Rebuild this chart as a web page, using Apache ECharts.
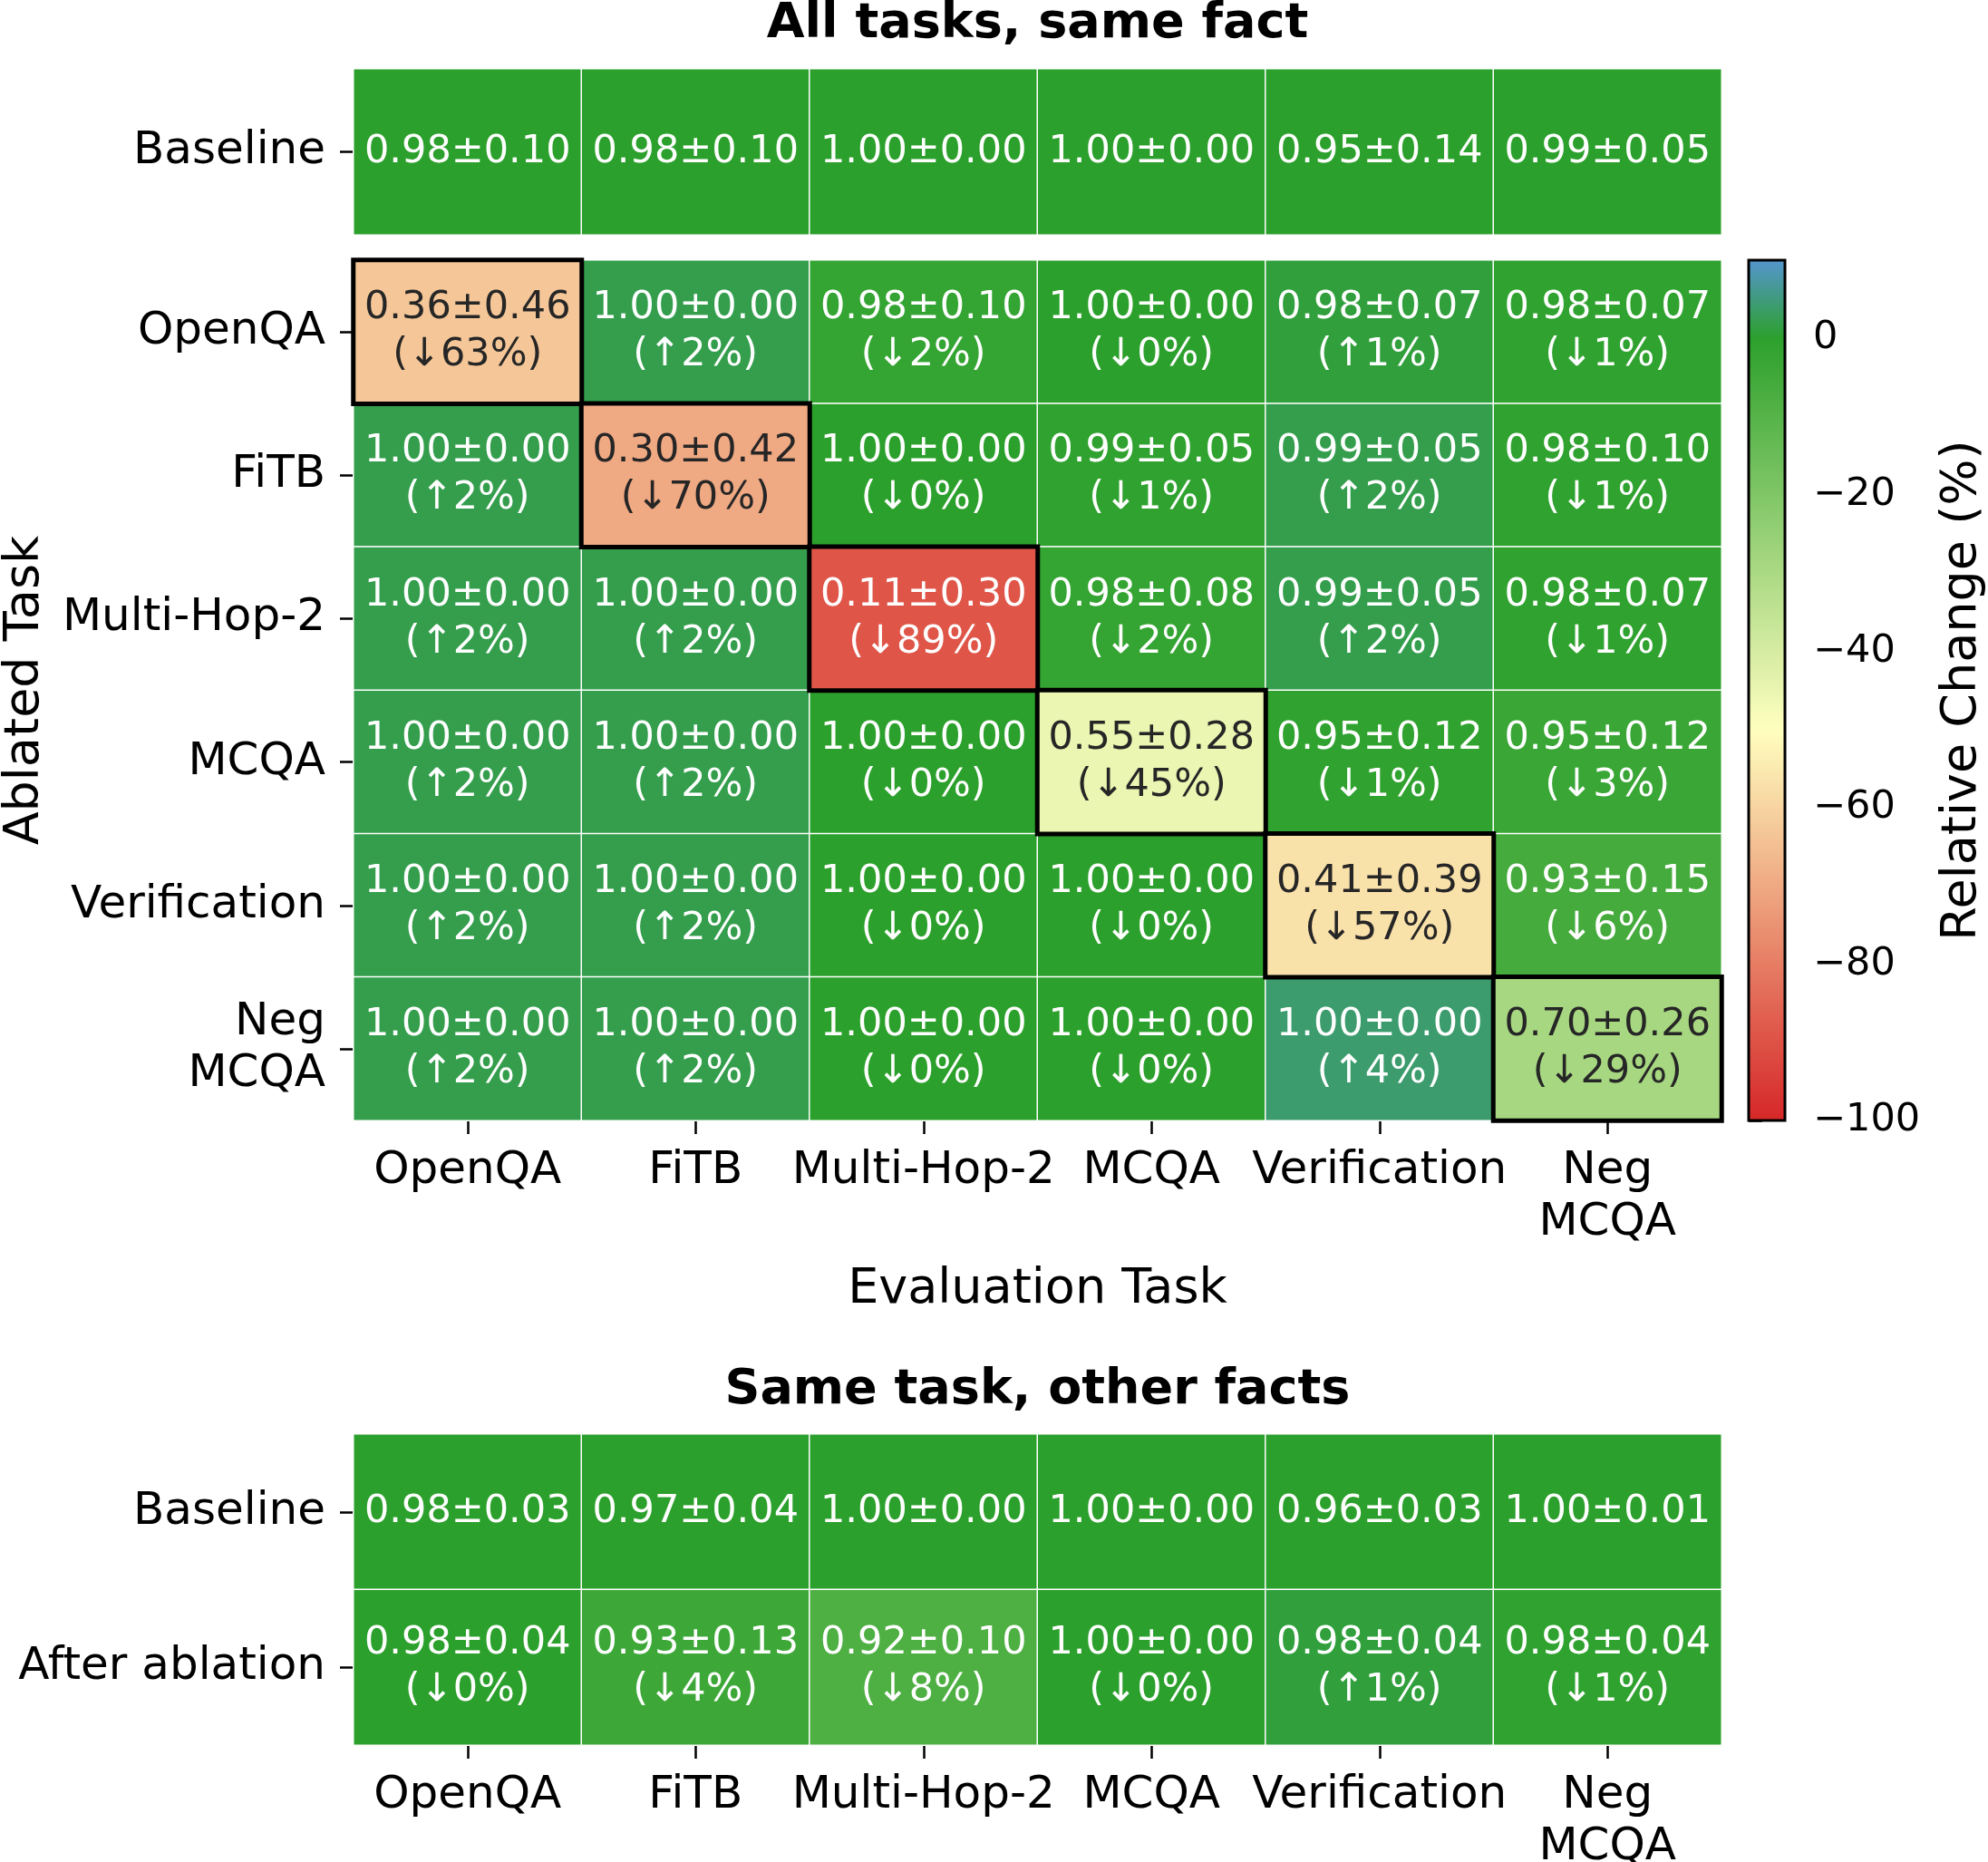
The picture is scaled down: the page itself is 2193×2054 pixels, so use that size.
<!DOCTYPE html>
<html><head><meta charset="utf-8">
<script src="https://cdn.jsdelivr.net/npm/echarts@6/dist/echarts.min.js"></script>
<style>html,body{margin:0;padding:0;background:#fff}#chart{width:2193px;height:2054px}</style>
</head><body><div id="chart"></div>
<script>
// ---------------- data ----------------
const evalTasks = ['OpenQA', 'FiTB', 'Multi-Hop-2', 'MCQA', 'Verification', 'Neg\nMCQA'];
const ablatedTasks = ['OpenQA', 'FiTB', 'Multi-Hop-2', 'MCQA', 'Verification', 'Neg\nMCQA'];
const baselineRow = ['Baseline'];
const baselineMean = [0.98, 0.98, 1.00, 1.00, 0.95, 0.99];
const baselineStd  = [0.10, 0.10, 0.00, 0.00, 0.14, 0.05];
const ablMean = [
  [0.36, 1.00, 0.98, 1.00, 0.98, 0.98],
  [1.00, 0.30, 1.00, 0.99, 0.99, 0.98],
  [1.00, 1.00, 0.11, 0.98, 0.99, 0.98],
  [1.00, 1.00, 1.00, 0.55, 0.95, 0.95],
  [1.00, 1.00, 1.00, 1.00, 0.41, 0.93],
  [1.00, 1.00, 1.00, 1.00, 1.00, 0.70]];
const ablStd = [
  [0.46, 0.00, 0.10, 0.00, 0.07, 0.07],
  [0.00, 0.42, 0.00, 0.05, 0.05, 0.10],
  [0.00, 0.00, 0.30, 0.08, 0.05, 0.07],
  [0.00, 0.00, 0.00, 0.28, 0.12, 0.12],
  [0.00, 0.00, 0.00, 0.00, 0.39, 0.15],
  [0.00, 0.00, 0.00, 0.00, 0.00, 0.26]];
const ablChange = [
  [-63, 2, -2, 0, 1, -1],
  [2, -70, 0, -1, 2, -1],
  [2, 2, -89, -2, 2, -1],
  [2, 2, 0, -45, -1, -3],
  [2, 2, 0, 0, -57, -6],
  [2, 2, 0, 0, 4, -29]];
const otherRows = ['Baseline', 'After ablation'];
const otherBaseMean  = [0.98, 0.97, 1.00, 1.00, 0.96, 1.00];
const otherBaseStd   = [0.03, 0.04, 0.00, 0.00, 0.03, 0.01];
const otherAfterMean = [0.98, 0.93, 0.92, 1.00, 0.98, 0.98];
const otherAfterStd  = [0.04, 0.13, 0.10, 0.00, 0.04, 0.04];
const otherAfterChange = [0, -4, -8, 0, 1, -1];
const cbarTicks = [-100, -80, -60, -40, -20, 0];
const cbarMin = -100, cbarMax = 10;

// ---------------- colormap (style) ----------------
const cmapNodes = [[-100, '#d62728'], [-50, '#ffffbf'], [0, '#2ca02c'], [10, '#5496cf']];
function hex2rgb(h) { return [1, 3, 5].map(i => parseInt(h.substr(i, 2), 16)); }
function cmap(v) {
  v = Math.max(cbarMin, Math.min(cbarMax, v));
  for (let i = 0; i < cmapNodes.length - 1; i++) {
    const [a, ca] = cmapNodes[i], [b, cb] = cmapNodes[i + 1];
    if (v <= b) {
      const t = (v - a) / (b - a), A = hex2rgb(ca), B = hex2rgb(cb);
      return A.map((x, k) => Math.round(x + (B[k] - x) * t));
    }
  }
  return hex2rgb(cmapNodes[cmapNodes.length - 1][1]);
}
function rgbStr(c) { return 'rgb(' + c.join(',') + ')'; }
function lum(c) {
  const l = c.map(x => { x /= 255; return x <= 0.03928 ? x / 12.92 : Math.pow((x + 0.055) / 1.055, 2.4); });
  return 0.2126 * l[0] + 0.7152 * l[1] + 0.0722 * l[2];
}
function textColor(v) { return lum(cmap(v)) > 0.408 ? '#262626' : '#ffffff'; }
const stopColors = [];
for (let v = cbarMin; v <= cbarMax; v += 10) stopColors.push(rgbStr(cmap(v)));

function fmtCell(p) {
  const d = p.data;
  let s = d.mean.toFixed(2) + '±' + d.std.toFixed(2);
  if (d.showChg) s += '\n(' + (d.value[2] > 0 ? '↑' : '↓') + Math.abs(d.value[2]) + '%)';
  return s;
}
function item(x, y, chg, mean, std, showChg) {
  return { value: [x, y, chg], mean: mean, std: std, showChg: showChg, label: { color: textColor(chg) } };
}

const topData = baselineMean.map((m, c) => item(c, 0, 0, m, baselineStd[c], false));
const mainData = [], diagData = [];
ablMean.forEach((row, r) => row.forEach((m, c) => {
  const it = item(c, r, ablChange[r][c], m, ablStd[r][c], true);
  (r === c ? diagData : mainData).push(it);
}));
const bottomData = [];
otherBaseMean.forEach((m, c) => bottomData.push(item(c, 0, 0, m, otherBaseStd[c], false)));
otherAfterMean.forEach((m, c) => bottomData.push(item(c, 1, otherAfterChange[c], m, otherAfterStd[c], true)));

// ---------------- option ----------------
const FONT = 'DejaVu Sans';
const tickStyle = { color: '#000', width: 2.5 };
const labelBase = { show: true, formatter: fmtCell, fontSize: 43, lineHeight: 52, fontFamily: FONT };
const cellStyle = { borderColor: '#ffffff', borderWidth: 1.5 };
function catX(grid, show, extra) {
  return Object.assign({
    gridIndex: grid, type: 'category', data: evalTasks, show: show,
    axisLine: { show: false }, splitLine: { show: false },
    axisTick: { show: true, alignWithLabel: true, interval: 0, length: 15, lineStyle: tickStyle },
    axisLabel: { interval: 0, fontSize: 50, lineHeight: 57, color: '#000', margin: 28, fontFamily: FONT }
  }, extra || {});
}
function catY(grid, data, extra) {
  return Object.assign({
    gridIndex: grid, type: 'category', data: data, inverse: true,
    axisLine: { show: false }, splitLine: { show: false },
    axisTick: { show: true, alignWithLabel: true, interval: 0, length: 15, lineStyle: tickStyle },
    axisLabel: { interval: 0, fontSize: 50, lineHeight: 57, color: '#000', margin: 31, fontFamily: FONT, align: 'right' }
  }, extra || {});
}

const option = {
  animation: false,
  backgroundColor: '#ffffff',
  textStyle: { fontFamily: FONT },
  title: [
    { text: 'All tasks, same fact', left: 1144.5, top: 0, padding: 0, textAlign: 'center',
      textStyle: { fontSize: 54, fontWeight: 'bold', color: '#000', fontFamily: FONT } },
    { text: 'Same task, other facts', left: 1144.5, top: 1507, padding: 0, textAlign: 'center',
      textStyle: { fontSize: 54, fontWeight: 'bold', color: '#000', fontFamily: FONT } }
  ],
  grid: [
    { left: 390, top: 76, width: 1509, height: 183, outerBoundsMode: 'none', containLabel: false },
    { left: 390, top: 287, width: 1509, height: 949, outerBoundsMode: 'none', containLabel: false },
    { left: 390, top: 1582, width: 1509, height: 343, outerBoundsMode: 'none', containLabel: false },
    { left: 1929, top: 287, width: 40, height: 949, show: true, z: 10, outerBoundsMode: 'none', containLabel: false,
      backgroundColor: 'transparent', borderColor: '#000', borderWidth: 3 }
  ],
  xAxis: [
    catX(0, false),
    catX(1, true, { name: 'Evaluation Task', nameLocation: 'middle', nameGap: 160, nameMoveOverlap: false,
      nameTextStyle: { fontSize: 54, color: '#000', fontFamily: FONT } }),
    catX(2, true),
    { gridIndex: 3, type: 'value', min: 0, max: 1, show: false }
  ],
  yAxis: [
    catY(0, baselineRow),
    catY(1, ablatedTasks, { name: 'Ablated Task', nameLocation: 'middle', nameRotate: 90, nameGap: 335, nameMoveOverlap: false,
      nameTextStyle: { fontSize: 54, color: '#000', fontFamily: FONT } }),
    catY(2, otherRows),
    { gridIndex: 3, type: 'value', min: cbarMin, max: cbarMax, position: 'right',
      axisLine: { show: false }, splitLine: { show: false },
      axisTick: { show: true, customValues: cbarTicks, length: 15, lineStyle: tickStyle },
      axisLabel: { customValues: cbarTicks, fontSize: 43, color: '#000', margin: 31, fontFamily: FONT,
        formatter: v => (v < 0 ? '\u2212' + Math.abs(v) : String(v)) },
      name: 'Relative Change (%)', nameLocation: 'middle', nameRotate: 90, nameGap: 169, nameMoveOverlap: false,
      nameTextStyle: { fontSize: 54, color: '#000', fontFamily: FONT } }
  ],
  visualMap: {
    type: 'continuous', min: cbarMin, max: cbarMax, dimension: 2, seriesIndex: [0, 1, 2, 3],
    inRange: { color: stopColors }, orient: 'vertical', left: 1929, top: 287,
    itemWidth: 40, itemHeight: 949, padding: 0, calculable: false, hoverLink: false, realtime: false,
    text: null, showLabel: false, z: 4
  },
  series: [
    { type: 'heatmap', xAxisIndex: 0, yAxisIndex: 0, data: topData, label: labelBase, itemStyle: cellStyle, emphasis: { disabled: true } },
    { type: 'heatmap', xAxisIndex: 1, yAxisIndex: 1, data: mainData, label: labelBase, itemStyle: cellStyle, emphasis: { disabled: true } },
    { type: 'heatmap', xAxisIndex: 1, yAxisIndex: 1, data: diagData, z: 3, label: labelBase,
      itemStyle: { borderColor: '#000', borderWidth: 5 }, emphasis: { disabled: true } },
    { type: 'heatmap', xAxisIndex: 2, yAxisIndex: 2, data: bottomData, label: labelBase, itemStyle: cellStyle, emphasis: { disabled: true } }
  ]
};
const chart = echarts.init(document.getElementById('chart'), null, { renderer: 'canvas' });
chart.setOption(option);
</script>
</body></html>
